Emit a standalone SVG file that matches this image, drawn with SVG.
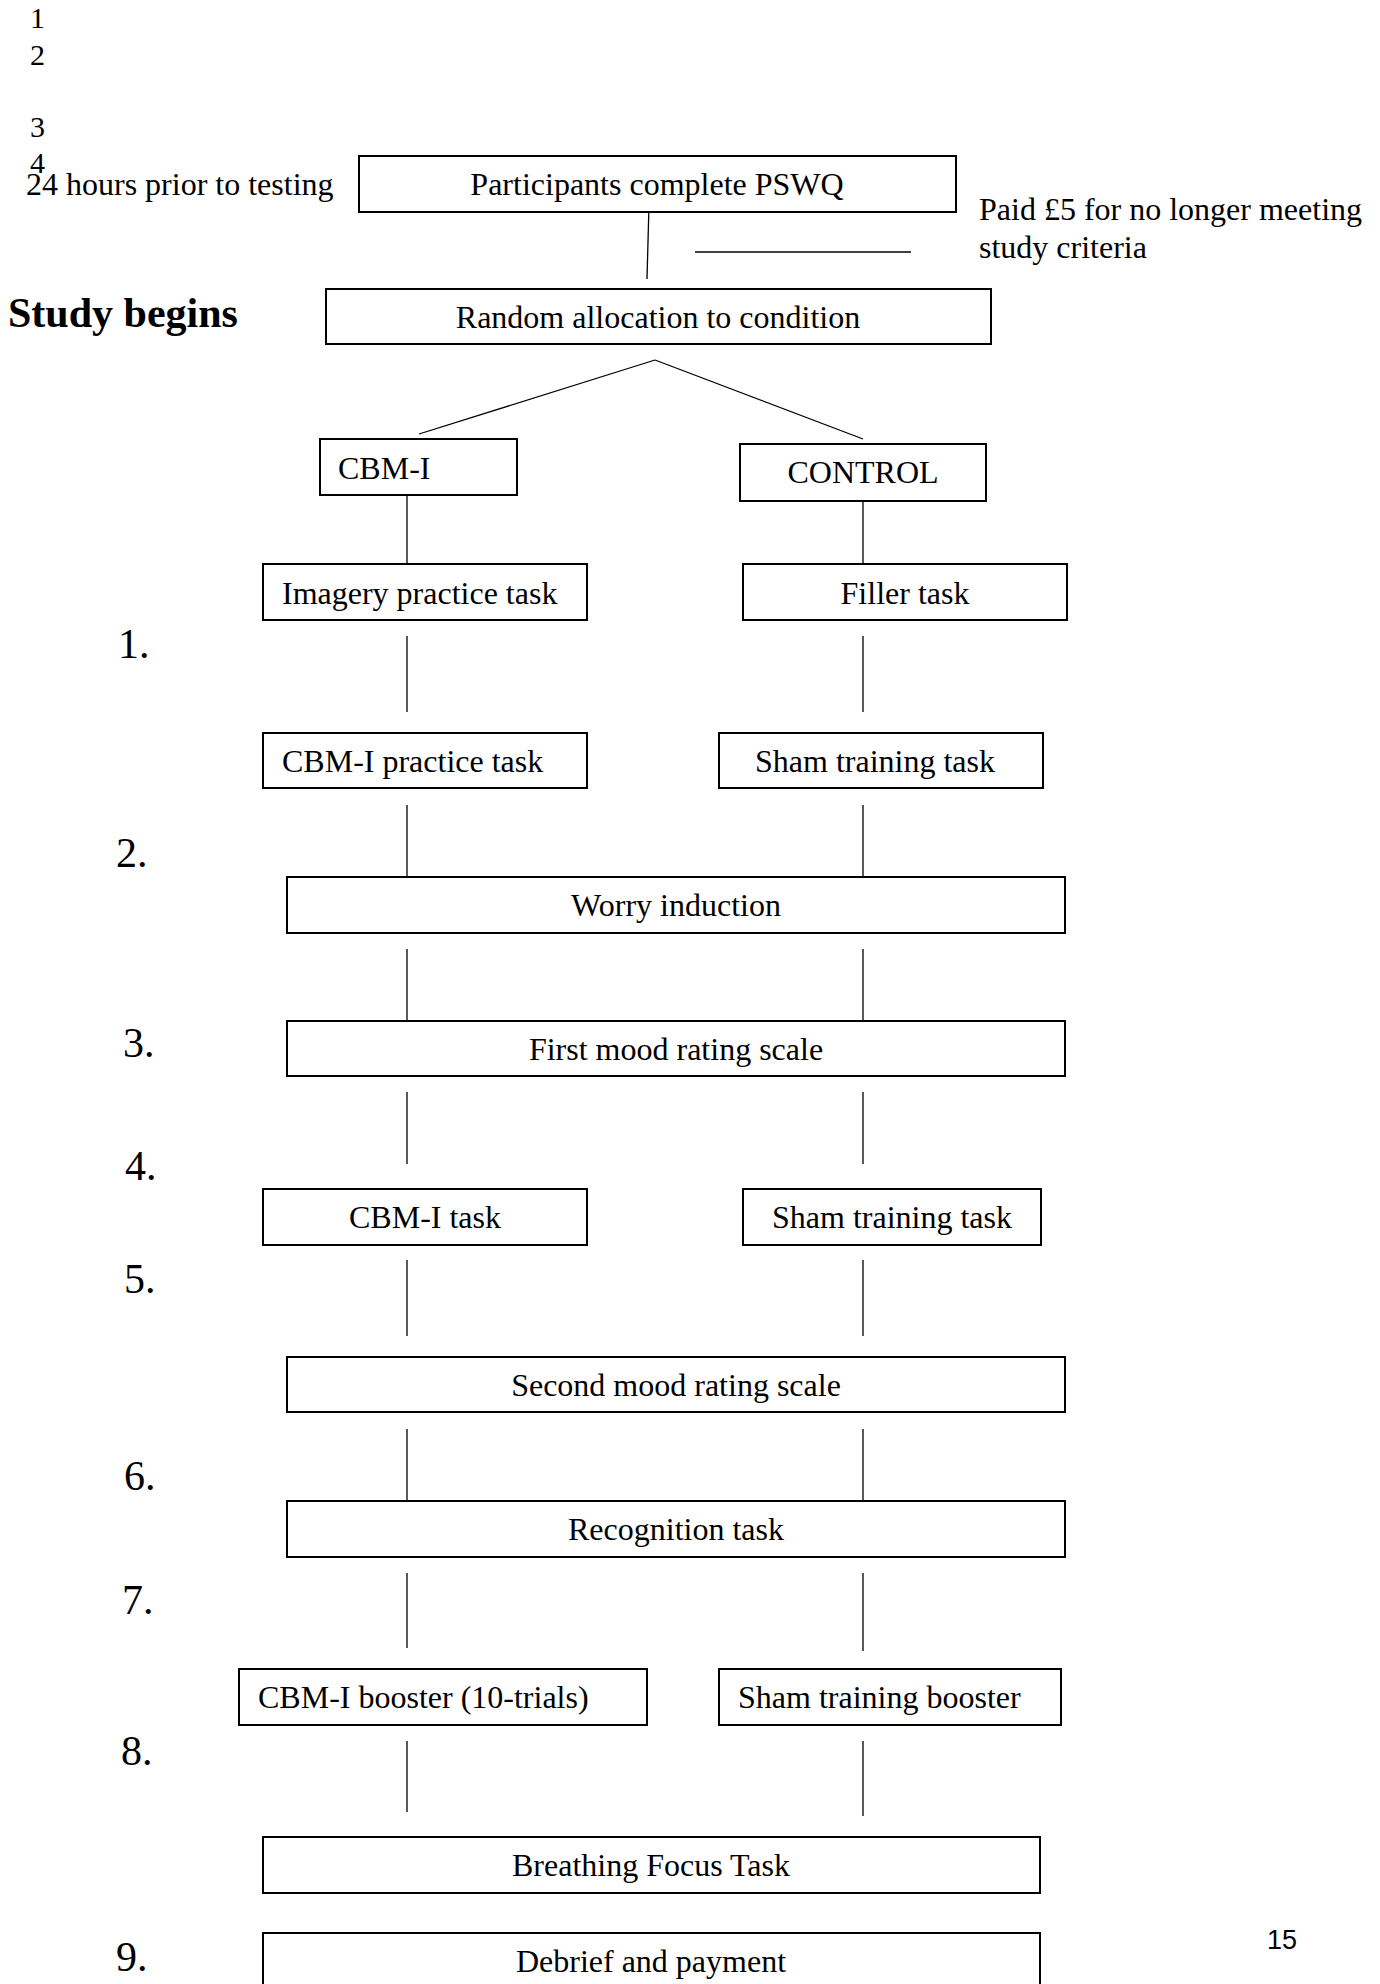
<svg xmlns="http://www.w3.org/2000/svg" width="1380" height="1984" viewBox="0 0 1380 1984">
<style>
  .bg{fill:#ffffff}
  .box{fill:#ffffff;stroke:#000;stroke-width:2}
  .ln{stroke:#000;stroke-width:1.3;fill:none}
  text{font-family:"Liberation Serif","Times New Roman",serif;fill:#000}
  .t{font-size:32px}
  .c{text-anchor:middle}
  .ln-num{font-size:30px}
  .step{font-size:42px}
  .bold{font-size:42px;font-weight:bold}
  .pg{font-family:"Liberation Sans",Arial,sans-serif;font-size:27px}
</style>
<rect class="bg" x="0" y="0" width="1380" height="1984"/>

<g id="margin">
  <text class="ln-num" x="30" y="28">1</text>
  <text class="ln-num" x="30" y="65">2</text>
  <text class="ln-num" x="30" y="137">3</text>
  <text class="ln-num" x="30" y="173">4</text>
  <text class="t" x="26" y="195">24 hours prior to testing</text>
  <text class="bold" x="8" y="327">Study begins</text>
  <text class="t" x="979" y="220">Paid £5 for no longer meeting</text>
  <text class="t" x="979" y="258">study criteria</text>
  <text class="step" x="118" y="658">1.</text>
  <text class="step" x="116" y="867">2.</text>
  <text class="step" x="123" y="1057">3.</text>
  <text class="step" x="125" y="1180">4.</text>
  <text class="step" x="124" y="1293">5.</text>
  <text class="step" x="124" y="1490">6.</text>
  <text class="step" x="122" y="1614">7.</text>
  <text class="step" x="121" y="1765">8.</text>
  <text class="step" x="116" y="1971">9.</text>
  <text class="pg" x="1267" y="1949">15</text>
</g>

<g id="connectors">
  <line class="ln" x1="649" y1="205" x2="647" y2="279"/>
  <line class="ln" x1="695" y1="252" x2="911" y2="252"/>
  <line class="ln" x1="655" y1="360" x2="419" y2="434"/>
  <line class="ln" x1="655" y1="360" x2="863" y2="439"/>
  <line class="ln" x1="407" y1="493" x2="407" y2="564"/>
  <line class="ln" x1="863" y1="493" x2="863" y2="564"/>
  <line class="ln" x1="407" y1="636" x2="407" y2="712"/>
  <line class="ln" x1="863" y1="636" x2="863" y2="712"/>
  <line class="ln" x1="407" y1="805" x2="407" y2="879"/>
  <line class="ln" x1="863" y1="805" x2="863" y2="880"/>
  <line class="ln" x1="407" y1="949" x2="407" y2="1020"/>
  <line class="ln" x1="863" y1="949" x2="863" y2="1022"/>
  <line class="ln" x1="407" y1="1092" x2="407" y2="1164"/>
  <line class="ln" x1="863" y1="1092" x2="863" y2="1164"/>
  <line class="ln" x1="407" y1="1260" x2="407" y2="1336"/>
  <line class="ln" x1="863" y1="1260" x2="863" y2="1336"/>
  <line class="ln" x1="407" y1="1429" x2="407" y2="1504"/>
  <line class="ln" x1="863" y1="1429" x2="863" y2="1504"/>
  <line class="ln" x1="407" y1="1573" x2="407" y2="1648"/>
  <line class="ln" x1="863" y1="1573" x2="863" y2="1651"/>
  <line class="ln" x1="407" y1="1741" x2="407" y2="1812"/>
  <line class="ln" x1="863" y1="1741" x2="863" y2="1816"/>
</g>

<g id="n-pswq"><rect class="box" x="359" y="156" width="597" height="56"/><text class="t c" x="657" y="195">Participants complete PSWQ</text></g>
<g id="n-random"><rect class="box" x="326" y="289" width="665" height="55"/><text class="t c" x="658" y="328">Random allocation to condition</text></g>
<g id="n-cbmi"><rect class="box" x="320" y="439" width="197" height="56"/><text class="t" x="338" y="479">CBM-I</text></g>
<g id="n-control"><rect class="box" x="740" y="444" width="246" height="57"/><text class="t c" x="863" y="483">CONTROL</text></g>
<g id="n-imagery"><rect class="box" x="263" y="564" width="324" height="56"/><text class="t" x="282" y="604">Imagery practice task</text></g>
<g id="n-filler"><rect class="box" x="743" y="564" width="324" height="56"/><text class="t c" x="905" y="604">Filler task</text></g>
<g id="n-cbmi-practice"><rect class="box" x="263" y="733" width="324" height="55"/><text class="t" x="282" y="772">CBM-I practice task</text></g>
<g id="n-sham1"><rect class="box" x="719" y="733" width="324" height="55"/><text class="t" x="755" y="772">Sham training task</text></g>
<g id="n-worry"><rect class="box" x="287" y="877" width="778" height="56"/><text class="t c" x="676" y="916">Worry induction</text></g>
<g id="n-mood1"><rect class="box" x="287" y="1021" width="778" height="55"/><text class="t c" x="676" y="1060">First mood rating scale</text></g>
<g id="n-cbmi-task"><rect class="box" x="263" y="1189" width="324" height="56"/><text class="t c" x="425" y="1228">CBM-I task</text></g>
<g id="n-sham2"><rect class="box" x="743" y="1189" width="298" height="56"/><text class="t c" x="892" y="1228">Sham training task</text></g>
<g id="n-mood2"><rect class="box" x="287" y="1357" width="778" height="55"/><text class="t c" x="676" y="1396">Second mood rating scale</text></g>
<g id="n-recog"><rect class="box" x="287" y="1501" width="778" height="56"/><text class="t c" x="676" y="1540">Recognition task</text></g>
<g id="n-cbmi-boost"><rect class="box" x="239" y="1669" width="408" height="56"/><text class="t" x="258" y="1708">CBM-I booster (10-trials)</text></g>
<g id="n-sham-boost"><rect class="box" x="719" y="1669" width="342" height="56"/><text class="t" x="738" y="1708">Sham training booster</text></g>
<g id="n-breath"><rect class="box" x="263" y="1837" width="777" height="56"/><text class="t c" x="651" y="1876">Breathing Focus Task</text></g>
<g id="n-debrief"><rect class="box" x="263" y="1933" width="777" height="70"/><text class="t c" x="651" y="1972">Debrief and payment</text></g>
</svg>
